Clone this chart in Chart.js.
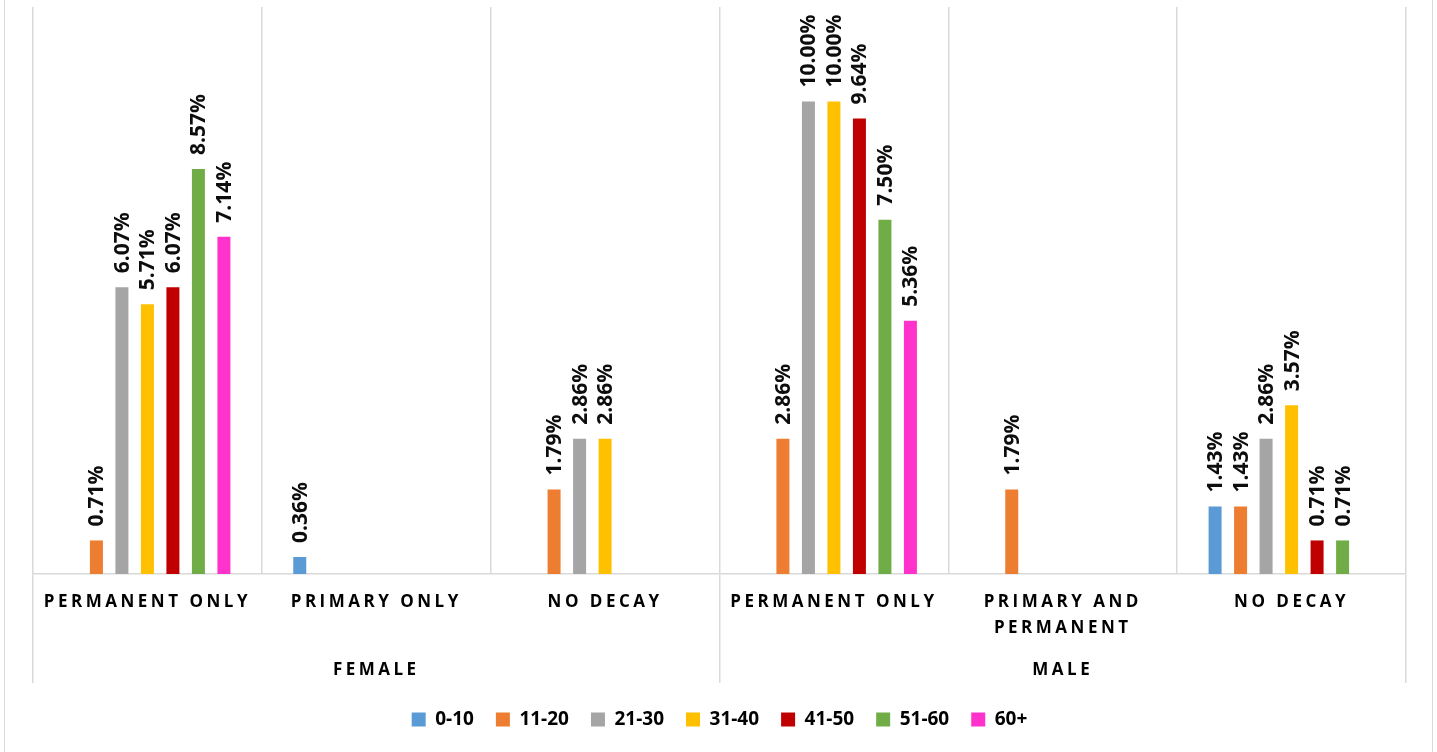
<!DOCTYPE html>
<html>
<head>
<meta charset="utf-8">
<script src="https://cdn.jsdelivr.net/npm/chart.js@4.4.0/dist/chart.umd.min.js"></script>
<style>
html,body{margin:0;padding:0;background:#fff;}
#wrap{position:relative;width:1437px;height:752px;overflow:hidden;}
#frame{position:absolute;left:4px;top:0;width:1429px;height:752px;border-left:1px solid #d9d9d9;border-right:1px solid #d9d9d9;box-sizing:border-box;pointer-events:none;}
canvas{position:absolute;left:0;top:0;}
</style>
</head>
<body>
<div id="wrap"><div id="frame"></div><canvas id="c" width="1437" height="752"></canvas></div>
<script>
// ---- data ----
const categories = ['PERMANENT ONLY', 'PRIMARY ONLY', 'NO DECAY', 'PERMANENT ONLY', ['PRIMARY AND', 'PERMANENT'], 'NO DECAY'];
const groups = ['FEMALE', 'MALE'];
const seriesNames = ['0-10', '11-20', '21-30', '31-40', '41-50', '51-60', '60+'];
const age0to10  = [null, 0.36, null, null, null, 1.43];
const age11to20 = [0.71, null, 1.79, 2.86, 1.79, 1.43];
const age21to30 = [6.07, null, 2.86, 10.00, null, 2.86];
const age31to40 = [5.71, null, 2.86, 10.00, null, 3.57];
const age41to50 = [6.07, null, null, 9.64, null, 0.71];
const age51to60 = [8.57, null, null, 7.50, null, 0.71];
const age60plus = [7.14, null, null, 5.36, null, null];
const seriesColors = ['#5B9BD5', '#ED7D31', '#A5A5A5', '#FFC000', '#C00000', '#70AD47', '#FF33CC'];
const seriesValues = [age0to10, age11to20, age21to30, age31to40, age41to50, age51to60, age60plus];

const FONT = '"Open Sans", "Liberation Sans", sans-serif';
const GRID = '#d9d9d9';

const valueLabels = {
  id: 'valueLabels',
  afterDatasetsDraw(chart) {
    const ctx = chart.ctx;
    ctx.save();
    ctx.font = 'bold 21px ' + FONT;
    ctx.fillStyle = '#0d0d0d';
    ctx.textAlign = 'left';
    ctx.textBaseline = 'middle';
    chart.data.datasets.forEach((ds, i) => {
      const meta = chart.getDatasetMeta(i);
      meta.data.forEach((bar, j) => {
        const v = ds.data[j];
        if (v === null || v === undefined) return;
        ctx.save();
        ctx.translate(bar.x + 1, bar.y - 14);
        ctx.rotate(-Math.PI / 2);
        ctx.fillText(v.toFixed(2) + '%', 0, 0);
        ctx.restore();
      });
    });
    ctx.restore();
    // letter-spaced axis labels are drawn after datasets (ticks.z = 1)
    ctx.letterSpacing = '3.5px';
  },
  afterDraw(chart) {
    chart.ctx.letterSpacing = '0px';
  }
};

new Chart(document.getElementById('c'), {
  type: 'bar',
  data: {
    labels: categories,
    datasets: seriesNames.map((name, i) => ({
      label: name,
      data: seriesValues[i],
      backgroundColor: seriesColors[i],
      borderWidth: 0,
      barPercentage: 0.51,
      categoryPercentage: 0.78,
      xAxisID: 'x',
      yAxisID: 'y'
    }))
  },
  options: {
    responsive: false,
    animation: false,
    devicePixelRatio: 1,
    layout: { padding: { left: 33, right: 31, top: 7, bottom: 13 } },
    scales: {
      x: {
        type: 'category',
        position: 'bottom',
        offset: true,
        afterFit: (s) => { s.height = 66; },
        grid: {
          offset: true,
          color: GRID,
          lineWidth: 1.5,
          drawTicks: true,
          tickLength: 109,
          tickColor: (c) => (c.index === undefined || c.index === 0 || c.index === 3) ? GRID : 'rgba(0,0,0,0)',
          tickWidth: 1.5
        },
        border: { display: true, color: GRID, width: 1.5 },
        ticks: {
          z: 1,
          autoSkip: false,
          maxRotation: 0,
          minRotation: 0,
          padding: -94,
          color: '#000',
          font: { family: FONT, size: 17, weight: 'bold', lineHeight: '26px' }
        }
      },
      x2: {
        type: 'category',
        position: 'bottom',
        labels: groups,
        offset: true,
        afterFit: (s) => { s.height = 48; },
        grid: { display: false, drawTicks: false },
        border: { display: false },
        ticks: {
          z: 1,
          autoSkip: false,
          maxRotation: 0,
          padding: 17,
          color: '#000',
          font: { family: FONT, size: 17, weight: 'bold', lineHeight: '26px' }
        }
      },
      y: {
        display: false,
        min: 0,
        max: 12
      }
    },
    plugins: {
      legend: {
        position: 'bottom',
        labels: {
          boxWidth: 14,
          boxHeight: 14,
          padding: 22,
          color: '#000',
          font: { family: FONT, size: 19, weight: 'bold' }
        }
      },
      tooltip: { enabled: false },
      title: { display: false }
    }
  },
  plugins: [valueLabels]
});
</script>
</body>
</html>
